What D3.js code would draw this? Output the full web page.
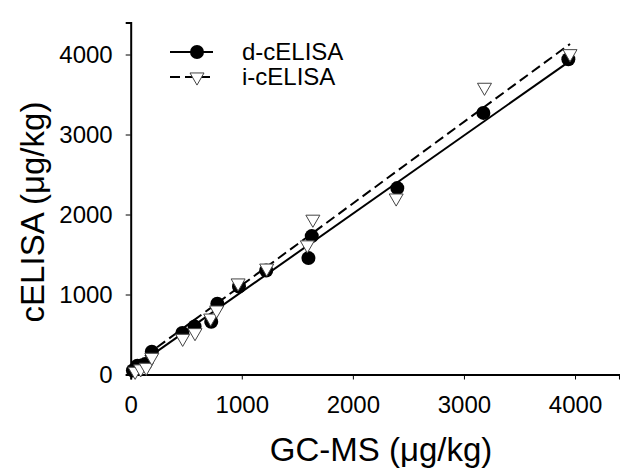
<!DOCTYPE html>
<html>
<head>
<meta charset="utf-8">
<script src="https://cdn.jsdelivr.net/npm/d3@7"></script>
<style>
  body { margin: 0; background: #fff; }
  svg { display: block; font-family: "Liberation Sans", Arial, sans-serif; }
</style>
</head>
<body>
<div id="chart"></div>
<script>
// values
const xTicks = [0, 1000, 2000, 3000, 4000];
const yTicks = [0, 1000, 2000, 3000, 4000];

// d-cELISA (filled circles)
const gcmsD  = [20, 60, 130, 190, 465, 575, 725, 780, 975, 1220, 1600, 1630, 2400, 3175, 3940];
const elisaD = [50, 110, 130, 285, 520, 600, 660, 885, 1100, 1300, 1455, 1730, 2330, 3270, 3940];

// i-cELISA (open down triangles)
const gcmsI  = [40, 90, 140, 190, 468, 579, 720, 774, 967, 1224, 1590, 1640, 2390, 3185, 3955];
const elisaI = [40, 70, 90, 215, 452, 523, 705, 806, 1144, 1330, 1620, 1941, 2206, 3590, 4010];

// regression lines (end points)
const fitDx = [20, 3940], fitDy = [76, 3905];
const fitIx = [20, 3955], fitIy = [118, 4132];

const seriesNames = ["d-cELISA", "i-cELISA"];

const width = 620, height = 473;
const x0 = 130.7, yBase = 374.5;

const svg = d3.select("#chart").append("svg")
    .attr("width", width)
    .attr("height", height);

const x = d3.scaleLinear([0, 4400], [x0, x0 + 4400 * 0.11108]);
const y = d3.scaleLinear([0, 4400], [yBase, yBase - 4400 * 0.08]);

// axes
svg.append("g")
    .attr("transform", `translate(0,${yBase})`)
    .call(d3.axisBottom(x).tickValues(xTicks).tickSize(5).tickPadding(16).tickFormat(d3.format("d")));
svg.append("g")
    .attr("transform", `translate(${x0},0)`)
    .call(d3.axisLeft(y).tickValues(yTicks).tickSize(5).tickPadding(13).tickFormat(d3.format("d")));

svg.selectAll(".domain").attr("stroke", "#000").attr("stroke-width", 2);
svg.selectAll(".tick line").attr("stroke", "#000").attr("stroke-width", 1);
svg.selectAll(".tick text").attr("fill", "#000").style("font-size", "24px")
    .style("font-family", "'Liberation Sans', Arial, sans-serif");

// axis titles
svg.append("text")
    .attr("x", 381)
    .attr("y", 461)
    .attr("text-anchor", "middle")
    .style("font-size", "33px")
    .text("GC-MS (\u03bcg/kg)");
svg.append("text")
    .attr("transform", "translate(44,212) rotate(-90)")
    .attr("text-anchor", "middle")
    .style("font-size", "33px")
    .text("cELISA (\u03bcg/kg)");

// fitted lines
const line = d3.line().x(d => x(d[0])).y(d => y(d[1]));
svg.append("path")
    .datum(d3.zip(fitDx, fitDy))
    .attr("fill", "none")
    .attr("stroke", "#000")
    .attr("stroke-width", 2)
    .attr("d", line);
svg.append("path")
    .datum(d3.zip(fitIx, fitIy))
    .attr("fill", "none")
    .attr("stroke", "#000")
    .attr("stroke-width", 2)
    .attr("stroke-dasharray", "10,5")
    .attr("d", line);

// points
const tri = d3.symbol().type(d3.symbolTriangle).size(85);
svg.append("g").selectAll("circle")
    .data(d3.zip(gcmsD, elisaD))
    .join("circle")
    .attr("cx", d => x(d[0]))
    .attr("cy", d => y(d[1]))
    .attr("r", 7)
    .attr("fill", "#000");
svg.append("g").selectAll("path")
    .data(d3.zip(gcmsI, elisaI))
    .join("path")
    .attr("d", tri)
    .attr("transform", d => `translate(${x(d[0])},${y(d[1])}) rotate(180)`)
    .attr("fill", "#fff")
    .attr("stroke", "#444")
    .attr("stroke-width", 1);

// legend
const leg = svg.append("g");
leg.append("line").attr("x1", 170).attr("x2", 213).attr("y1", 52).attr("y2", 52)
    .attr("stroke", "#000").attr("stroke-width", 2);
leg.append("circle").attr("cx", 197).attr("cy", 52).attr("r", 7).attr("fill", "#000");
leg.append("line").attr("x1", 170).attr("x2", 213).attr("y1", 77).attr("y2", 77)
    .attr("stroke", "#000").attr("stroke-width", 2).attr("stroke-dasharray", "10,5");
leg.append("path").attr("d", tri)
    .attr("transform", "translate(197,77) rotate(180)")
    .attr("fill", "#fff").attr("stroke", "#444").attr("stroke-width", 1);
leg.selectAll("text")
    .data(seriesNames)
    .join("text")
    .attr("x", 242)
    .attr("y", (d, i) => 60 + i * 25)
    .style("font-size", "24px")
    .text(d => d);
</script>
</body>
</html>
